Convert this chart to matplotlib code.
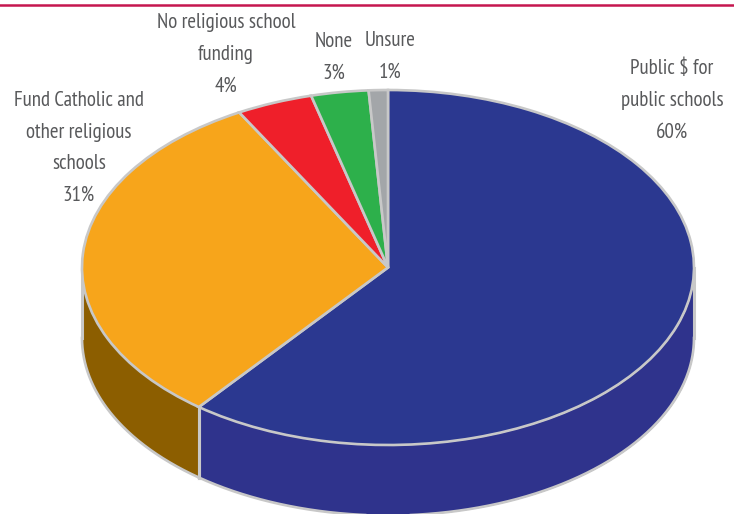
import numpy as np
import matplotlib
matplotlib.use("Agg")
import matplotlib.pyplot as plt

# 3D looking pie of school funding opinions

labels = ["Public $ for\npublic schools\n60%",
          "Fund Catholic and\nother religious\nschools\n31%",
          "No religious school\nfunding\n4%",
          "None\n3%",
          "Unsure\n1%"]
shares = [60, 31, 4, 3, 1]
top_colors = ["#2b3890", "#f7a51b", "#ef1f2a", "#2db04b", "#a3a6a9"]
side_colors = ["#2f338c", "#8c5e00", "#a01218", "#1d7a33", "#6f7275"]
label_x = [672, 79, 226, 334, 390]
label_y = [100, 148, 54, 57, 56]

edge = "#c8c8c8"
text_color = "#58595b"
W, H = 734, 514
# pie geometry in pixels
cx, cy, rx, ry, depth_px = 388, 267.5, 306, 177.5, 70.5
depth = depth_px / ry

plt.rcParams["font.family"] = ["PT Sans Narrow", "Liberation Sans Narrow", "Liberation Sans", "DejaVu Sans"]

fig = plt.figure(figsize=(W / 100, H / 100), dpi=100)
ax = fig.add_axes([0, 0, 1, 1])

wedges, _ = ax.pie(shares, startangle=90, counterclock=False, radius=1,
                   colors=top_colors,
                   wedgeprops={"edgecolor": edge, "linewidth": 1.9, "zorder": 5})
ax.set_aspect("auto")
ax.set_xlim(-cx / rx, (W - cx) / rx)
ax.set_ylim(-(H - cy) / ry, cy / ry)

# side wall, only the front half of the rim shows
for wedge, color in zip(wedges, side_colors):
    lo = max(wedge.theta1, -180)
    hi = min(wedge.theta2, 0)
    if hi <= lo:
        continue
    t = np.radians(np.linspace(lo, hi, 200))
    x = np.cos(t)
    y = np.sin(t)
    ax.fill_between(x, y, y - depth, color=color, lw=0, zorder=2)
    ax.plot(x, y - depth, color=edge, lw=1.9, zorder=3)
    ax.plot([x[0], x[0]], [y[0], y[0] - depth], color=edge, lw=2.2, zorder=3)
    ax.plot([x[-1], x[-1]], [y[-1], y[-1] - depth], color=edge, lw=2.2, zorder=3)

# rule along the top of the page
fig.add_artist(plt.Line2D([0, 1], [1 - 5 / H, 1 - 5 / H], color="#c5174f", lw=1.8))

for text, x, y in zip(labels, label_x, label_y):
    fig.text(x / W, 1 - y / H, text, ha="center", va="center", color=text_color,
             fontsize=15, linespacing=1.85)

fig.savefig("out.png", dpi=100)
